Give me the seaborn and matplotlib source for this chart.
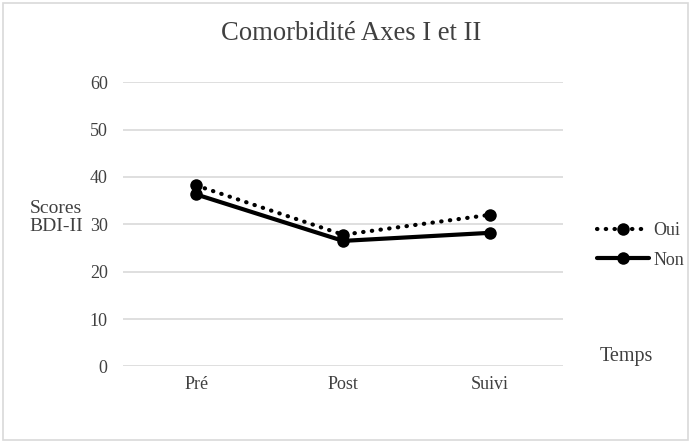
import matplotlib
matplotlib.use("Agg")
import matplotlib.pyplot as plt
import seaborn as sns
import pandas as pd
from matplotlib.lines import Line2D
from matplotlib.patches import Rectangle

temps = ["Pré", "Post", "Suivi"]
oui = [38.2, 27.8, 32.0]
non = [36.3, 26.5, 28.2]
groups = ["Oui", "Non"]
yticks = [0, 10, 20, 30, 40, 50, 60]

df = pd.DataFrame({
    "Temps": temps * 2,
    "Score": oui + non,
    "Groupe": ["Oui"] * 3 + ["Non"] * 3,
})

sns.set_theme(style="white")
plt.rcParams["font.family"] = ["Liberation Serif", "DejaVu Serif"]

fig = plt.figure(figsize=(6.91, 4.42), dpi=100)
ax = fig.add_axes([0.178, 0.171, 0.637, 0.643])

sns.lineplot(data=df, x="Temps", y="Score", hue="Groupe", style="Groupe",
             palette={"Oui": "black", "Non": "black"},
             dashes={"Oui": (0.1, 2.0), "Non": ""},
             markers={"Oui": "o", "Non": "o"}, markersize=9,
             linewidth=3, ax=ax, legend=False, sort=False)
for ln in ax.lines:
    ln.set_dash_capstyle("round")
    ln.set_markeredgewidth(0)

ax.set_xlim(-0.5, 2.5)
ax.set_ylim(0, 60)
ax.set_yticks(yticks)
ax.set_yticklabels([str(v) for v in yticks])
ax.grid(axis="y", color="#d9d9d9", linewidth=1.2)
ax.set_axisbelow(True)
for s in ax.spines.values():
    s.set_visible(False)
ax.tick_params(axis="both", length=0, labelsize=13, colors="#404040")
ax.tick_params(axis="y", pad=11)
ax.tick_params(axis="x", pad=7)
ax.set_xlabel("")
ax.set_ylabel("")

fig.text(0.508, 0.925, "Comorbidité Axes I et II", ha="center", va="center",
         fontsize=19.2, color="#404040")
fig.text(0.081, 0.508, "Scores\nBDI-II", ha="center", va="center",
         fontsize=14, color="#404040", linespacing=1.05)
fig.text(0.868, 0.193, "Temps", ha="left", va="center", fontsize=14.5, color="#404040")

handles = [
    Line2D([], [], color="black", linestyle=(0, (0.1, 2.0)), linewidth=3,
           marker="o", markersize=9, dash_capstyle="round", markeredgewidth=0),
    Line2D([], [], color="black", linestyle="-", linewidth=3,
           marker="o", markersize=9, markeredgewidth=0),
]
leg = fig.legend(handles, groups, loc="center left", bbox_to_anchor=(0.84, 0.445),
                 frameon=False, fontsize=13, handlelength=2.9, handletextpad=0.25,
                 labelspacing=0.7)
for t in leg.get_texts():
    t.set_color("#404040")

fig.patches.append(Rectangle((0.004, 0.004), 0.992, 0.99, transform=fig.transFigure,
                             fill=False, edgecolor="#d9d9d9", linewidth=1.2))

fig.savefig("out.png", dpi=100)
